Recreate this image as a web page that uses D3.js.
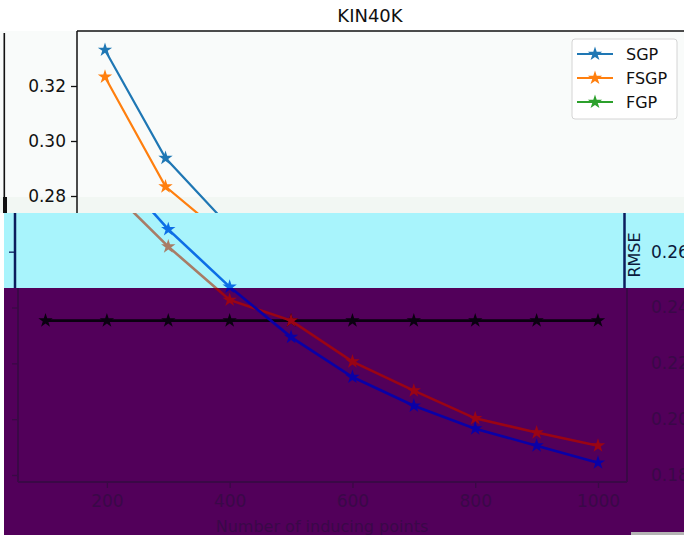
<!DOCTYPE html>
<html>
<head>
<meta charset="utf-8">
<script src="https://cdn.jsdelivr.net/npm/d3@7"></script>
<style>
  body { margin: 0; background: #fff; }
  svg { display: block; font-family: "DejaVu Sans", sans-serif; }
</style>
</head>
<body>
<div class="canvas"></div>
<script>
// chart data
const title = 'KIN40K'
const seriesNames = ['SGP', 'FSGP', 'FGP']
const xLabel = 'Number of inducing points'
const yLabel = 'RMSE'

// upper copy of the plot (only the first points are visible)
const pointsTop = [200, 300, 400]
const sgpTop = [0.3331, 0.2938, 0.2702]
const fsgpTop = [0.3233, 0.2834, 0.2651]
const yTicksTop = [0.28, 0.30, 0.32]

// lower copy of the plot
const points = [200, 300, 400, 500, 600, 700, 800, 900, 1000]
const sgp = [0.2925, 0.2680, 0.2474, 0.2294, 0.2151, 0.2048, 0.1966, 0.1905, 0.1844]
const fsgp = [0.2835, 0.2618, 0.2427, 0.2353, 0.2206, 0.2102, 0.2003, 0.1952, 0.1905]
const pointsFgp = [100, 200, 300, 400, 500, 600, 700, 800, 900, 1000]
const fgp = [0.2353, 0.2353, 0.2353, 0.2353, 0.2353, 0.2353, 0.2353, 0.2353, 0.2353, 0.2353]
const xTicks = [200, 400, 600, 800, 1000]
const yTicks = [0.18, 0.20, 0.22, 0.24, 0.26]

// graph setup
const dims = { width: 684, height: 535 }
const cut = { cyan: 213, purple: 288 }

const svg = d3.select('.canvas')
  .append('svg')
  .attr('width', dims.width)
  .attr('height', dims.height)

const defs = svg.append('defs')
const clip = (id, x, y, w, h) => {
  defs.append('clipPath').attr('id', id)
    .append('rect').attr('x', x).attr('y', y).attr('width', w).attr('height', h)
  return `url(#${id})`
}

const star = d3.symbol().type(d3.symbolStar).size(64)
const fmt = d3.format('.2f')

// ---------- upper plot ----------
const upper = svg.append('g').attr('clip-path', clip('clipTop', 0, 0, dims.width, cut.cyan))

const xTop = d3.scaleLinear().domain([100, 1000]).range([44.5, 589])
const yTop = d3.scaleLinear().domain([0.28, 0.32]).range([196, 86])

upper.append('rect')
  .attr('x', 0).attr('y', 31).attr('width', dims.width).attr('height', cut.cyan - 31)
  .attr('fill', '#f9fbfa')
upper.append('rect')
  .attr('x', 0).attr('y', 197).attr('width', dims.width).attr('height', cut.cyan - 197)
  .attr('fill', '#f2f7f3')

upper.append('text')
  .attr('x', 370).attr('y', 22)
  .attr('text-anchor', 'middle')
  .attr('font-size', 18)
  .attr('fill', '#111')
  .text(title)

const topLines = [
  { name: 'SGP', color: '#1f77b4', values: sgpTop },
  { name: 'FSGP', color: '#ff7f0e', values: fsgpTop }
]
const lineTop = d3.line()
  .x((d, i) => xTop(pointsTop[i]))
  .y(d => yTop(d))

topLines.forEach(s => {
  upper.append('path')
    .attr('fill', 'none')
    .attr('stroke', s.color)
    .attr('stroke-width', 2.2)
    .attr('d', lineTop(s.values))
  upper.selectAll(null)
    .data(s.values)
    .enter()
    .append('path')
      .attr('d', star)
      .attr('fill', s.color)
      .attr('transform', (d, i) => `translate(${xTop(pointsTop[i])},${yTop(d)})`)
})

// spines
upper.append('line').attr('x1', 77).attr('x2', 77).attr('y1', 31).attr('y2', cut.cyan)
  .attr('stroke', '#111').attr('stroke-width', 1.5)
upper.append('line').attr('x1', 77).attr('x2', dims.width).attr('y1', 31).attr('y2', 31)
  .attr('stroke', '#111').attr('stroke-width', 1.5)
// stray edge line on the left
upper.append('rect').attr('x', 3.5).attr('y', 33).attr('width', 1.6).attr('height', cut.cyan - 33).attr('fill', '#111')
upper.append('rect').attr('x', 3).attr('y', 197).attr('width', 4).attr('height', cut.cyan - 197).attr('fill', '#111')

const yAxisTop = upper.append('g')
  .attr('transform', 'translate(77,0)')
  .call(d3.axisLeft(yTop).tickValues(yTicksTop).tickFormat(fmt).tickSize(6).tickPadding(5))
yAxisTop.select('.domain').remove()
yAxisTop.selectAll('line').attr('stroke', '#111').attr('stroke-width', 1.3)
yAxisTop.selectAll('text').attr('font-size', 17).attr('fill', '#111').attr('font-family', 'DejaVu Sans')

// legend
const legend = upper.append('g').attr('transform', 'translate(572,39)')
legend.append('rect')
  .attr('width', 105).attr('height', 80).attr('rx', 3)
  .attr('fill', '#fff').attr('stroke', '#d4d4d4')
const legendColors = ['#1f77b4', '#ff7f0e', '#2ca02c']
seriesNames.forEach((name, i) => {
  const row = legend.append('g').attr('transform', `translate(0,${15 + i * 24})`)
  row.append('line').attr('x1', 5).attr('x2', 41)
    .attr('stroke', legendColors[i]).attr('stroke-width', 2.2)
  row.append('path').attr('d', star).attr('fill', legendColors[i]).attr('transform', 'translate(23,0)')
  row.append('text').attr('x', 54).attr('y', 6)
    .attr('font-size', 16).attr('fill', '#111').text(name)
})

// ---------- lower plot, drawn once per colour band ----------
const x = d3.scaleLinear().domain([100, 1000]).range([45.5, 598])
const y = d3.scaleLinear().domain([0.18, 0.24]).range([475, 307.5])

svg.append('rect').attr('x', 4).attr('y', cut.cyan).attr('width', dims.width - 4).attr('height', cut.purple - cut.cyan)
  .attr('fill', '#a8f4fc')
svg.append('rect').attr('x', 4).attr('y', cut.purple).attr('width', dims.width - 4).attr('height', dims.height - cut.purple)
  .attr('fill', '#52005a')
svg.append('rect').attr('x', 631).attr('y', 532).attr('width', 53).attr('height', 3).attr('fill', '#b4b4b4')

const bands = [
  { id: 'clipCyan', y0: cut.cyan, y1: cut.purple, left: 15, right: 624.5, spineW: 2.5, xAxis: false,
    spine: '#0b1d5e', text: '#0b1a3c', sgp: '#0d6fe6', fsgp: '#a87c66', fgp: '#000' },
  { id: 'clipPurple', y0: cut.purple, y1: dims.height, left: 18, right: 627, spineW: 2, xAxis: true,
    spine: '#3a0846', text: '#3a0848', sgp: '#0a00a6', fsgp: '#9a0414', fgp: '#0a0010' }
]

const line = (xs) => d3.line()
  .x((d, i) => x(xs[i]))
  .y(d => y(d))

bands.forEach(b => {
  const g = svg.append('g').attr('clip-path', clip(b.id, 4, b.y0, dims.width - 4, b.y1 - b.y0))
  const inBand = yTicks.filter(v => y(v) > b.y0 && y(v) < b.y1)

  // spines
  g.append('line').attr('x1', b.left).attr('x2', b.left).attr('y1', b.y0).attr('y2', 482)
    .attr('stroke', b.spine).attr('stroke-width', b.spineW)
  g.append('line').attr('x1', b.right).attr('x2', b.right).attr('y1', b.y0).attr('y2', 482)
    .attr('stroke', b.spine).attr('stroke-width', b.spineW)
  g.append('line').attr('x1', b.left).attr('x2', b.right).attr('y1', 482).attr('y2', 482)
    .attr('stroke', b.spine).attr('stroke-width', b.spineW)

  // left ticks (their labels sit off the left edge)
  const yl = g.append('g')
    .attr('transform', `translate(${b.left},0)`)
    .call(d3.axisLeft(y).tickValues(inBand).tickFormat('').tickSize(6))
  // right labels
  const yr = g.append('g')
    .attr('transform', 'translate(645,0)')
    .call(d3.axisRight(y).tickValues(inBand).tickFormat(fmt).tickSize(0).tickPadding(6))
  yr.selectAll('line').remove()
  const axes = [yl, yr]

  if (b.xAxis) {
    const xa = g.append('g')
      .attr('transform', 'translate(0,482)')
      .call(d3.axisBottom(x).tickValues(xTicks).tickFormat(d3.format('d')).tickSize(6).tickPadding(7))
    axes.push(xa)
    g.append('text')
      .attr('x', 322).attr('y', 532)
      .attr('text-anchor', 'middle')
      .attr('font-size', 16)
      .attr('fill', b.text)
      .text(xLabel)
  } else {
    g.append('text')
      .attr('transform', 'translate(634,255) rotate(-90)')
      .attr('text-anchor', 'middle')
      .attr('dominant-baseline', 'central')
      .attr('font-size', 16)
      .attr('fill', b.text)
      .text(yLabel)
  }

  axes.forEach(a => {
    a.select('.domain').remove()
    a.selectAll('line').attr('stroke', b.spine).attr('stroke-width', 1.3)
    a.selectAll('text').attr('font-size', 17).attr('fill', b.text).attr('font-family', 'DejaVu Sans')
  })

  const series = [
    { values: fgp, xs: pointsFgp, color: b.fgp },
    { values: fsgp, xs: points, color: b.fsgp },
    { values: sgp, xs: points, color: b.sgp }
  ]
  series.forEach(s => {
    g.append('path')
      .attr('fill', 'none')
      .attr('stroke', s.color)
      .attr('stroke-width', 2.6)
      .attr('d', line(s.xs)(s.values))
    g.selectAll(null)
      .data(s.values)
      .enter()
      .append('path')
        .attr('d', star)
        .attr('fill', s.color)
        .attr('transform', (d, i) => `translate(${x(s.xs[i])},${y(d)})`)
  })
})
</script>
</body>
</html>
